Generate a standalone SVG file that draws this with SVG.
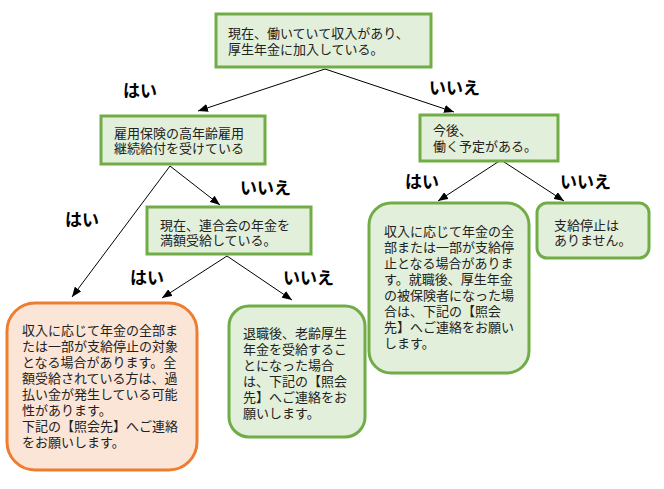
<svg xmlns="http://www.w3.org/2000/svg" width="664" height="489" viewBox="0 0 664 489">
<defs>
<marker id="ah" viewBox="0 0 10 8" refX="10" refY="4" markerWidth="10" markerHeight="8" markerUnits="userSpaceOnUse" orient="auto">
<path d="M0,0 L10,4 L0,8 z" fill="#000"/>
</marker>
<style>
.g{fill:#E2EFDA;stroke:#70AD47;stroke-width:3}
.o{fill:#FBE5D6;stroke:#ED7D31;stroke-width:3}
.t{font-family:"Liberation Sans","Noto Sans CJK JP","Noto Sans CJK SC",sans-serif;font-size:13px;fill:#222}
.l{font-family:"Liberation Sans","Noto Sans CJK JP","Noto Sans CJK SC",sans-serif;font-size:17px;font-weight:bold;fill:#000}
.c{stroke:#000;stroke-width:1;fill:none;marker-end:url(#ah)}
</style>
</defs>
<rect width="664" height="489" fill="#fff"/>
<g id="connectors">
<line class="c" x1="325" y1="69" x2="198" y2="111"/>
<line class="c" x1="325" y1="69" x2="454" y2="112"/>
<line class="c" x1="170" y1="166" x2="220" y2="205"/>
<line class="c" x1="170" y1="166" x2="72" y2="297"/>
<line class="c" x1="227" y1="256" x2="162" y2="298"/>
<line class="c" x1="227" y1="256" x2="292" y2="300"/>
<line class="c" x1="501" y1="160" x2="438" y2="201"/>
<line class="c" x1="501" y1="160" x2="564" y2="201"/>
</g>
<g id="labels">
<text class="l" x="123" y="97">はい</text>
<text class="l" x="429" y="94">いいえ</text>
<text class="l" x="240" y="194">いいえ</text>
<text class="l" x="65" y="226">はい</text>
<text class="l" x="130" y="284">はい</text>
<text class="l" x="283" y="284">いいえ</text>
<text class="l" x="405" y="188">はい</text>
<text class="l" x="560" y="188">いいえ</text>
</g>
<g id="n1">
<rect class="g" x="216" y="14" width="215" height="53"/>
<text class="t" x="228" y="38">現在、働いていて収入があり、</text>
<text class="t" x="228" y="54">厚生年金に加入している。</text>
</g>
<g id="n2">
<rect class="g" x="101" y="116" width="164" height="48"/>
<text class="t" x="114" y="138">雇用保険の高年齢雇用</text>
<text class="t" x="114" y="153">継続給付を受けている</text>
</g>
<g id="n3">
<rect class="g" x="420" y="115" width="138" height="46"/>
<text class="t" x="433" y="135">今後、</text>
<text class="t" x="433" y="151">働く予定がある。</text>
</g>
<g id="n4">
<rect class="g" x="147" y="207" width="164" height="47"/>
<text class="t" x="160" y="230">現在、連合会の年金を</text>
<text class="t" x="160" y="245">満額受給している。</text>
</g>
<g id="n5">
<rect class="o" x="7" y="303" width="190" height="167" rx="28"/>
<text class="t" x="22" y="335">収入に応じて年金の全部ま</text>
<text class="t" x="22" y="351">たは一部が支給停止の対象</text>
<text class="t" x="22" y="367">となる場合があります。全</text>
<text class="t" x="22" y="383">額受給されている方は、過</text>
<text class="t" x="22" y="399">払い金が発生している可能</text>
<text class="t" x="22" y="415">性があります。</text>
<text class="t" x="22" y="431">下記の【照会先】へご連絡</text>
<text class="t" x="22" y="447">をお願いします。</text>
</g>
<g id="n6">
<rect class="g" x="229" y="306" width="136" height="131" rx="20"/>
<text class="t" x="243" y="338">退職後、老齢厚生</text>
<text class="t" x="243" y="354">年金を受給するこ</text>
<text class="t" x="243" y="370">とになった場合</text>
<text class="t" x="243" y="386">は、下記の【照会</text>
<text class="t" x="243" y="402">先】へご連絡をお</text>
<text class="t" x="243" y="418">願いします。</text>
</g>
<g id="n7">
<rect class="g" x="369" y="203" width="160" height="170" rx="22"/>
<text class="t" x="384" y="236">収入に応じて年金の全</text>
<text class="t" x="384" y="252">部または一部が支給停</text>
<text class="t" x="384" y="268">止となる場合がありま</text>
<text class="t" x="384" y="284">す。就職後、厚生年金</text>
<text class="t" x="384" y="300">の被保険者になった場</text>
<text class="t" x="384" y="316">合は、下記の【照会</text>
<text class="t" x="384" y="332">先】へご連絡をお願い</text>
<text class="t" x="384" y="348">します。</text>
</g>
<g id="n8">
<rect class="g" x="537" y="203" width="112" height="55" rx="10"/>
<text class="t" x="554" y="230">支給停止は</text>
<text class="t" x="554" y="245">ありません。</text>
</g>
</svg>
